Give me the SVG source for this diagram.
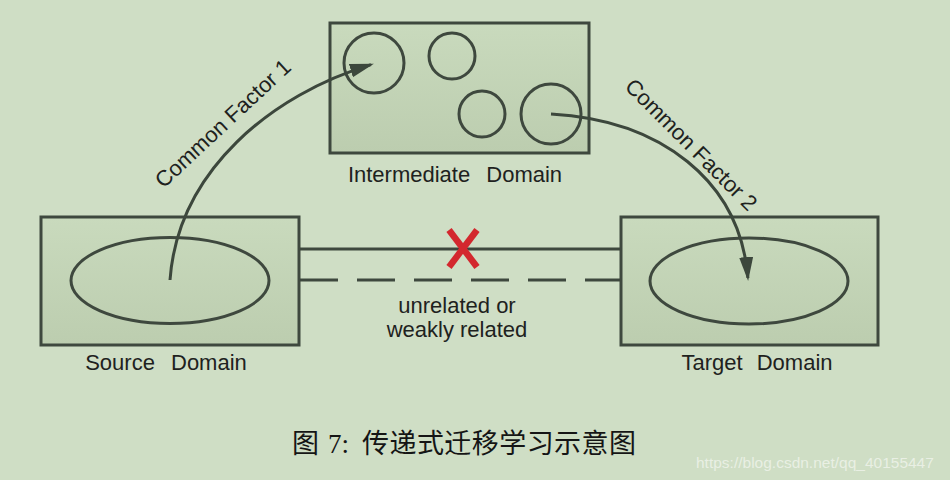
<svg xmlns="http://www.w3.org/2000/svg" width="950" height="480" viewBox="0 0 950 480">
<defs>
  <linearGradient id="boxFill" x1="0" y1="0" x2="0" y2="1">
    <stop offset="0" stop-color="#c9dabd"/>
    <stop offset="1" stop-color="#bccdaf"/>
  </linearGradient>
  <marker id="head" markerUnits="userSpaceOnUse" markerWidth="26" markerHeight="16" refX="21" refY="7" orient="auto">
    <path d="M0,0 L24,7 L0,14 z" fill="#3c473c"/>
  </marker>
  <style>
    .box { fill: url(#boxFill); stroke: #3e483e; stroke-width: 3; }
    .shape { fill: none; stroke: #3e483e; stroke-width: 3; }
    .link { fill: none; stroke: #3e483e; stroke-width: 3; }
    .arc { fill: none; stroke: #3c473c; stroke-width: 3; }
    .lbl { font-family: "Liberation Sans", Arial, sans-serif; font-size: 22px; fill: #1e221e; }
    .cross { stroke: #d3282e; stroke-width: 6.5; }
    .cap { font-family: "Noto Sans CJK SC", sans-serif; font-size: 27px; fill: #151515; }
  </style>
</defs>
<rect x="0" y="0" width="950" height="480" fill="#cfdec5"/>

<g id="intermediate-domain">
  <rect class="box" x="330" y="23" width="259" height="130"/>
  <circle class="shape" cx="374" cy="63" r="30"/>
  <circle class="shape" cx="452" cy="56" r="23"/>
  <circle class="shape" cx="482" cy="114" r="23"/>
  <circle class="shape" cx="551" cy="114" r="30"/>
  <text class="lbl" x="455" y="182" text-anchor="middle" word-spacing="10">Intermediate Domain</text>
</g>

<g id="source-domain">
  <rect class="box" x="41" y="217" width="258" height="128"/>
  <ellipse class="shape" cx="170" cy="280.5" rx="99" ry="43"/>
  <text class="lbl" x="166" y="370" text-anchor="middle" word-spacing="10">Source Domain</text>
</g>

<g id="target-domain">
  <rect class="box" x="621" y="217" width="257" height="128"/>
  <ellipse class="shape" cx="749" cy="281" rx="99" ry="43"/>
  <text class="lbl" x="757" y="370" text-anchor="middle" word-spacing="8">Target Domain</text>
</g>

<g id="connectors">
  <line class="link" x1="299" y1="249" x2="621" y2="249"/>
  <line class="link" x1="299" y1="280" x2="621" y2="280" stroke-dasharray="38 19" stroke-dashoffset="-1"/>
  <g id="cross">
    <line class="cross" x1="449" y1="230" x2="477" y2="267"/>
    <line class="cross" x1="477" y1="230" x2="449" y2="267"/>
  </g>
  <text class="lbl" x="457" y="313" text-anchor="middle">unrelated or</text>
  <text class="lbl" x="457" y="337" text-anchor="middle">weakly related</text>
  <path class="arc" d="M170,280 C178,170 273,94 371,64.6" marker-end="url(#head)"/>
  <path class="arc" d="M551,114 C660,120 740,180 747.9,278" marker-end="url(#head)"/>
  <text class="lbl" transform="translate(228,129) rotate(-43)" text-anchor="middle">Common Factor 1</text>
  <text class="lbl" transform="translate(686,150) rotate(45)" text-anchor="middle">Common Factor 2</text>
</g>

<text class="cap" y="453"><tspan x="292">图</tspan><tspan x="328" style="font-family: 'Liberation Serif', serif;">7:</tspan><tspan x="362" textLength="274" lengthAdjust="spacing">传递式迁移学习示意图</tspan></text>

<text x="696" y="468" style="font-family: 'Liberation Sans', Arial, sans-serif; font-size: 15.5px; fill: #eef3ea; fill-opacity: 0.85;">https://blog.csdn.net/qq_40155447</text>
</svg>
